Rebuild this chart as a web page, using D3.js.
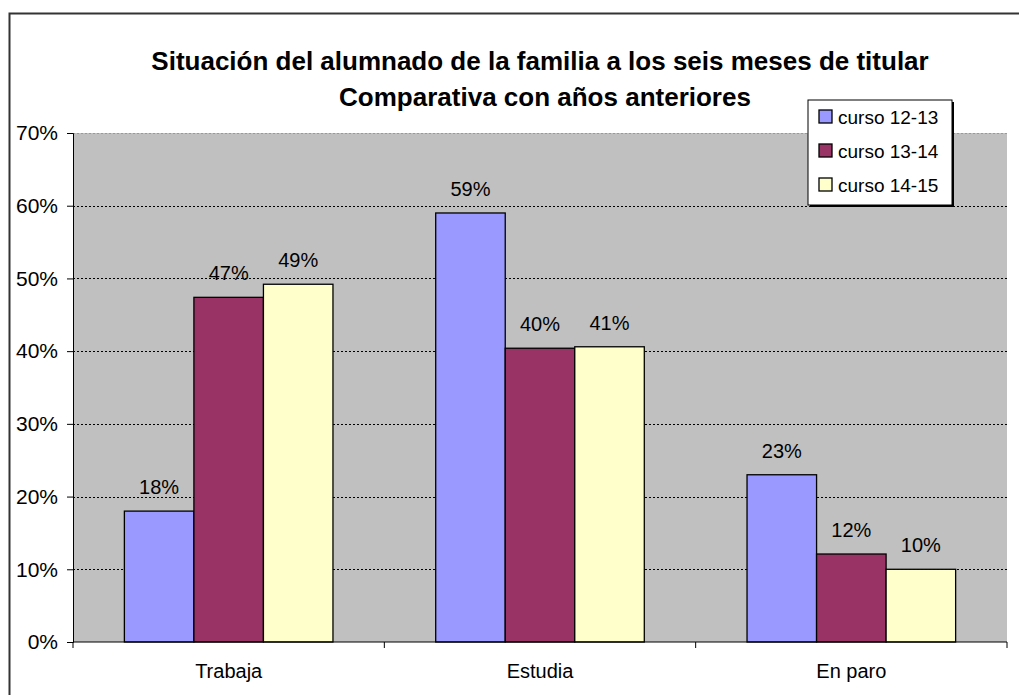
<!DOCTYPE html>
<html>
<head>
<meta charset="utf-8">
<script src="https://cdn.jsdelivr.net/npm/d3@7"></script>
<style>
  body { margin: 0; background: #fff; }
  svg { display: block; font-family: Arial, "Liberation Sans", sans-serif; }
</style>
</head>
<body>
<div id="chart"></div>
<script>
// data
const categories = ["Trabaja", "Estudia", "En paro"];
const series = ["curso 12-13", "curso 13-14", "curso 14-15"];
const curso1213 = [18.0, 59.0, 23.0];
const curso1314 = [47.4, 40.4, 12.1];
const curso1415 = [49.2, 40.6, 10.0];
const yTicks = [0, 10, 20, 30, 40, 50, 60, 70];
const colors = ["#9999ff", "#993366", "#ffffcc"];

const width = 1019, height = 695;
const plot = { left: 73, right: 1007, top: 133, bottom: 642 };

const svg = d3.select("#chart").append("svg")
  .attr("width", width)
  .attr("height", height);

// outer chart frame (runs off the right and bottom of the picture)
svg.append("rect")
  .attr("x", 9.5).attr("y", 13.5)
  .attr("width", width + 20).attr("height", height + 20)
  .attr("fill", "#fff")
  .attr("stroke", "#333")
  .attr("stroke-width", 2);

const x0 = d3.scaleBand()
  .domain(categories)
  .range([plot.left, plot.right])
  .paddingInner(0.33)
  .paddingOuter(0.165);

const x1 = d3.scaleBand()
  .domain(series)
  .range([0, x0.bandwidth()]);

const y = d3.scaleLinear()
  .domain([0, 70])
  .range([plot.bottom, plot.top]);

// plot area background
svg.append("rect")
  .attr("x", plot.left).attr("y", plot.top)
  .attr("width", plot.right - plot.left)
  .attr("height", plot.bottom - plot.top)
  .attr("fill", "#c0c0c0");

// gridlines
svg.append("g")
  .selectAll("line")
  .data(yTicks.filter(d => d > 0))
  .join("line")
  .attr("x1", plot.left).attr("x2", plot.right)
  .attr("y1", d => Math.round(y(d)) + 0.5)
  .attr("y2", d => Math.round(y(d)) + 0.5)
  .attr("stroke", d => d === 70 ? "#999" : "#000")
  .attr("stroke-width", 1)
  .attr("stroke-dasharray", "2,2");

// bars
const rows = categories.map((c, i) => ({
  cat: c,
  vals: [curso1213[i], curso1314[i], curso1415[i]]
}));

const groups = svg.append("g")
  .selectAll("g")
  .data(rows)
  .join("g")
  .attr("transform", d => `translate(${x0(d.cat)},0)`);

groups.selectAll("rect")
  .data(d => d.vals.map((v, j) => ({ s: series[j], v, j })))
  .join("rect")
  .attr("x", d => x1(d.s))
  .attr("y", d => y(d.v))
  .attr("width", x1.bandwidth())
  .attr("height", d => y(0) - y(d.v))
  .attr("fill", d => colors[d.j])
  .attr("stroke", "#000")
  .attr("stroke-width", 1.3);

groups.selectAll("text")
  .data(d => d.vals.map((v, j) => ({ s: series[j], v })))
  .join("text")
  .attr("x", d => x1(d.s) + x1.bandwidth() / 2)
  .attr("y", d => y(d.v) - 17)
  .attr("text-anchor", "middle")
  .style("font-size", "20px")
  .attr("fill", "#000")
  .text(d => Math.round(d.v) + "%");

// y axis
const yAxis = svg.append("g")
  .attr("transform", `translate(${plot.left},0)`)
  .call(d3.axisLeft(y).tickValues(yTicks).tickFormat(d => d + "%").tickSize(6).tickPadding(9));
yAxis.attr("font-size", null).attr("font-family", null);
yAxis.select(".domain").attr("stroke", "#000");
yAxis.selectAll("line").attr("stroke", "#000");
yAxis.selectAll("text").style("font-size", "21px").attr("fill", "#000");

// x axis
const xAxis = svg.append("g")
  .attr("transform", `translate(0,${plot.bottom})`);
xAxis.append("line")
  .attr("x1", plot.left).attr("x2", plot.right)
  .attr("stroke", "#000");
xAxis.selectAll(".sep")
  .data(categories.map(c => x0(c) - x0.step() * x0.paddingOuter()).concat([plot.right]))
  .join("line")
  .attr("class", "sep")
  .attr("x1", d => d).attr("x2", d => d)
  .attr("y1", 0).attr("y2", 6)
  .attr("stroke", "#000");
xAxis.selectAll("text")
  .data(categories)
  .join("text")
  .attr("x", d => x0(d) + x0.bandwidth() / 2)
  .attr("y", 36)
  .attr("text-anchor", "middle")
  .style("font-size", "20px")
  .text(d => d);

// title
const title = svg.append("text")
  .attr("x", 540)
  .attr("text-anchor", "middle")
  .style("font-size", "26px")
  .style("font-weight", "bold");
title.append("tspan").attr("x", 540).attr("y", 70)
  .text("Situación del alumnado de la familia a los seis meses de titular");
title.append("tspan").attr("x", 545).attr("y", 106)
  .text("Comparativa con años anteriores");

// legend
const legend = svg.append("g").attr("transform", "translate(808,100)");
legend.append("rect")
  .attr("x", 2).attr("y", 2)
  .attr("width", 144).attr("height", 105)
  .attr("fill", "#000");
legend.append("rect")
  .attr("width", 144).attr("height", 105)
  .attr("fill", "#fff")
  .attr("stroke", "#000");
const items = legend.selectAll(".item")
  .data(series)
  .join("g")
  .attr("class", "item")
  .attr("transform", (d, i) => `translate(11,${17 + i * 34})`);
items.append("rect")
  .attr("x", 0).attr("y", -7)
  .attr("width", 13).attr("height", 13)
  .attr("fill", (d, i) => colors[i])
  .attr("stroke", "#000")
  .attr("stroke-width", 1.3);
items.append("text")
  .attr("x", 19).attr("y", 0)
  .attr("dy", "0.35em")
  .style("font-size", "19px")
  .text(d => d);
</script>
</body>
</html>
